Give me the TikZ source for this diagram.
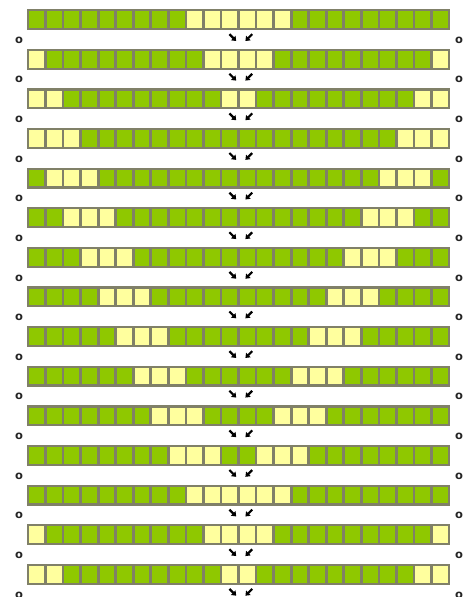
\documentclass[tikz,border=0pt]{standalone}
\usepackage{fontspec}
\setmainfont{DejaVu Sans}
\usetikzlibrary{arrows.meta}
\definecolor{cgrn}{RGB}{143,200,0}
\definecolor{cyel}{RGB}{255,255,158}
\definecolor{cbord}{RGB}{128,128,104}
\tikzset{
  barbox/.style={fill=cbord, draw=none, minimum width=423.3pt, minimum height=21pt, inner sep=0pt, outer sep=0pt},
  cell0/.style={fill=cgrn, draw=none, minimum width=14.8pt, minimum height=16.6pt, inner sep=0pt, outer sep=0pt},
  cell1/.style={fill=cyel, draw=none, minimum width=14.8pt, minimum height=16.6pt, inner sep=0pt, outer sep=0pt},
  olabel/.style={font=\fontsize{11.5}{13}\selectfont\bfseries, inner sep=0pt, text=black!85},
  arr/.style={line width=2.2pt, -{Triangle[length=4.2pt,width=6.2pt]}, black}
}
\begin{document}
\begin{tikzpicture}[x=1pt,y=-1pt]
\useasboundingbox[fill=white] (0,0) rectangle (472,597);
\foreach \pat [count=\r] in {
{0,0,0,0,0,0,0,0,0,1,1,1,1,1,1,0,0,0,0,0,0,0,0,0},
{1,0,0,0,0,0,0,0,0,0,1,1,1,1,0,0,0,0,0,0,0,0,0,1},
{1,1,0,0,0,0,0,0,0,0,0,1,1,0,0,0,0,0,0,0,0,0,1,1},
{1,1,1,0,0,0,0,0,0,0,0,0,0,0,0,0,0,0,0,0,0,1,1,1},
{0,1,1,1,0,0,0,0,0,0,0,0,0,0,0,0,0,0,0,0,1,1,1,0},
{0,0,1,1,1,0,0,0,0,0,0,0,0,0,0,0,0,0,0,1,1,1,0,0},
{0,0,0,1,1,1,0,0,0,0,0,0,0,0,0,0,0,0,1,1,1,0,0,0},
{0,0,0,0,1,1,1,0,0,0,0,0,0,0,0,0,0,1,1,1,0,0,0,0},
{0,0,0,0,0,1,1,1,0,0,0,0,0,0,0,0,1,1,1,0,0,0,0,0},
{0,0,0,0,0,0,1,1,1,0,0,0,0,0,0,1,1,1,0,0,0,0,0,0},
{0,0,0,0,0,0,0,1,1,1,0,0,0,0,1,1,1,0,0,0,0,0,0,0},
{0,0,0,0,0,0,0,0,1,1,1,0,0,1,1,1,0,0,0,0,0,0,0,0},
{0,0,0,0,0,0,0,0,0,1,1,1,1,1,1,0,0,0,0,0,0,0,0,0},
{1,0,0,0,0,0,0,0,0,0,1,1,1,1,0,0,0,0,0,0,0,0,0,1},
{1,1,0,0,0,0,0,0,0,0,0,1,1,0,0,0,0,0,0,0,0,0,1,1}}
{
  \pgfmathsetmacro{\yc}{19.6+39.62*(\r-1)}
  \node[barbox] (bar\r) at (238.35,\yc) {};
  \foreach \c [count=\i] in \pat {
    \node[cell\c] (c\r-\i) at ({36.7+17.55*(\i-1)},\yc) {};
  }
  \coordinate (als\r) at (229.4,\yc+14.6);
  \coordinate (ale\r) at (236.2,\yc+21.4);
  \coordinate (ars\r) at (252.2,\yc+14.6);
  \coordinate (are\r) at (245.4,\yc+21.4);
  \draw[arr] (als\r) -- (ale\r);
  \draw[arr] (ars\r) -- (are\r);
  \node[olabel] (ol\r) at (19.2,\yc+20.6) {o};
  \node[olabel] (or\r) at (459,\yc+20.6) {o};
}
\end{tikzpicture}
\end{document}
